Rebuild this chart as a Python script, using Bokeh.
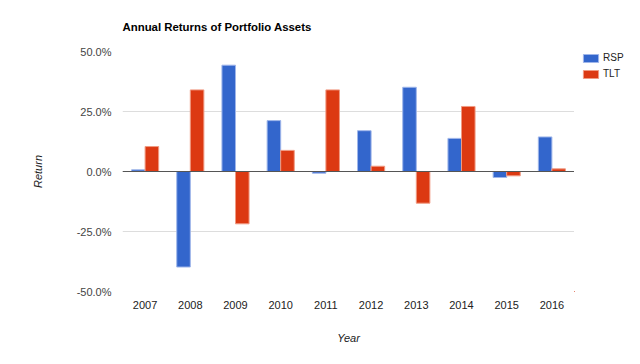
from bokeh.plotting import figure
from bokeh.layouts import row
from bokeh.models import (ColumnDataSource, FactorRange, Range1d, FixedTicker,
                          PrintfTickFormatter, Span, Legend, LegendItem)
from bokeh.transform import dodge
from bokeh.embed import file_html
from bokeh.resources import INLINE

years = ["2007", "2008", "2009", "2010", "2011", "2012", "2013", "2014", "2015", "2016"]
rsp = [0.7, -39.8, 44.3, 21.2, -0.7, 17.0, 35.1, 13.8, -2.5, 14.4]
tlt = [10.4, 34.0, -21.8, 8.8, 34.0, 2.2, -13.2, 27.1, -1.8, 1.1]
series = ["RSP", "TLT"]
fields = ["rsp", "tlt"]
colors = ["#3366cc", "#dc3912"]
outlines = ["#9fb6ea", "#f09a82"]
y_ticks = [-50, -25, 0, 25, 50]

src = ColumnDataSource(dict(year=years, rsp=rsp, tlt=tlt))

FONT = "Liberation Sans"
H = 346

p = figure(width=574, height=H, output_backend="svg", toolbar_location=None,
           x_range=FactorRange(*years, range_padding=0),
           y_range=Range1d(-50, 50),
           min_border_left=122, min_border_right=0,
           min_border_top=51, min_border_bottom=55)

p.title.text = "Annual Returns of Portfolio Assets"
p.title.text_font = FONT
p.title.text_font_size = "11.4px"
p.title.text_font_style = "bold"
p.title.text_color = "#000000"
p.title.standoff = 37
p.title.offset = 0

p.vbar(x=dodge("year", -0.15, range=p.x_range), top="rsp", bottom=0, width=0.3,
       source=src, fill_color=colors[0], line_color=outlines[0], line_width=1)
p.vbar(x=dodge("year", 0.15, range=p.x_range), top="tlt", bottom=0, width=0.3,
       source=src, fill_color=colors[1], line_color=outlines[1], line_width=1)

p.add_layout(Span(location=0, dimension="width", line_color="#555555", line_width=1))

p.yaxis.ticker = FixedTicker(ticks=y_ticks)
p.yaxis.formatter = PrintfTickFormatter(format="%.1f%%")
p.yaxis.axis_label = "Return"
p.xaxis.axis_label = "Year"
for ax in (p.xaxis, p.yaxis):
    ax.axis_line_color = None
    ax.major_tick_line_color = None
    ax.minor_tick_line_color = None
    ax.major_tick_out = 0
    ax.major_tick_in = 0
    ax.major_label_text_font = FONT
    ax.major_label_text_font_size = "11px"
    ax.axis_label_text_font = FONT
    ax.axis_label_text_font_size = "11px"
    ax.axis_label_text_font_style = "italic"
    ax.axis_label_text_color = "#222222"
p.yaxis.major_label_text_color = "#444444"
p.xaxis.major_label_text_color = "#222222"
p.yaxis.major_label_standoff = 11
p.yaxis.axis_label_standoff = 30
p.xaxis.major_label_standoff = 9
p.xaxis.axis_label_standoff = 20

p.xgrid.grid_line_color = None
p.ygrid.grid_line_color = "#dddddd"
p.outline_line_color = None

# legend panel to the right of the chart area; its ranges lie outside the
# data so the legend-only renderers draw nothing but their legend swatches
lf = figure(width=50, height=H, output_backend="svg", toolbar_location=None,
            x_axis_type=None, y_axis_type=None,
            x_range=Range1d(100, 101), y_range=Range1d(100, 101),
            min_border=0)
lf.outline_line_color = None
lf.grid.grid_line_color = None
items = []
for name, f, c, oc in zip(series, fields, colors, outlines):
    r = lf.vbar(x=f, top=f, bottom=0, width=0.1, source=src,
                fill_color=c, line_color=oc, line_width=1)
    items.append(LegendItem(label=name, renderers=[r]))

legend = Legend(items=items, location=(7, 212), margin=0, padding=0, spacing=5,
                glyph_width=19, glyph_height=10, label_standoff=3,
                label_text_font=FONT, label_text_font_size="10px",
                label_text_color="#222222", border_line_color=None,
                background_fill_alpha=0, label_height=10)
lf.add_layout(legend, "center")

layout = row(p, lf, spacing=0)
open("out.html", "w").write(file_html(layout, INLINE))
